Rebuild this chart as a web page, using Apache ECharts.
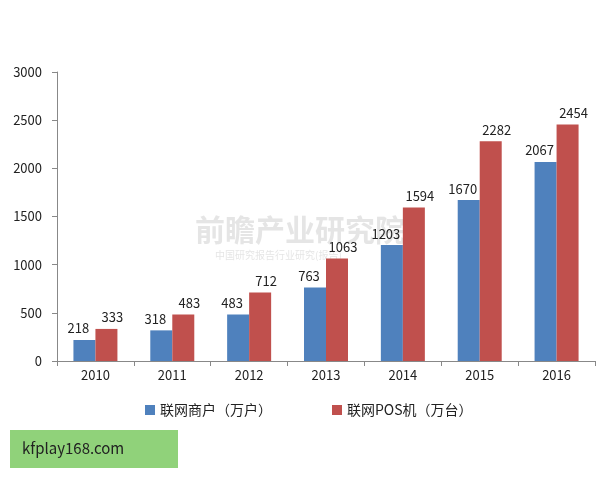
<!DOCTYPE html>
<html>
<head>
<meta charset="UTF-8">
<style>body{margin:0;background:#fff}#c{width:600px;height:480px}</style>
<script src="https://cdn.jsdelivr.net/npm/echarts@6/dist/echarts.min.js"></script>
</head>
<body>
<div id="c"></div>
<script>
var years = ['2010','2011','2012','2013','2014','2015','2016'];
var merchants = [218, 318, 483, 763, 1203, 1670, 2067];
var posMachines = [333, 483, 712, 1063, 1594, 2282, 2454];

var chart = echarts.init(document.getElementById('c'));
var font = '"Noto Sans CJK SC", sans-serif';
chart.setOption({
  animation: false,
  textStyle: {fontFamily: font},
  graphic: [
    {type: 'text', left: 'center', top: 215, style: {text: '前瞻产业研究院', fill: 'rgba(180,180,180,0.35)', font: 'bold 30px ' + font}},
    {type: 'text', left: 215, top: 250, style: {text: '中国研究报告行业研究(报告)', fill: 'rgba(180,180,180,0.35)', font: '10px ' + font}},
    {type: 'rect', left: 10, top: 430, shape: {width: 168, height: 38}, style: {fill: '#90d27a'}},
    {type: 'text', left: 22, top: 441, style: {text: 'kfplay168.com', fill: '#222', font: '15px ' + font}}
  ],
  legend: {
    bottom: 58, left: 140, itemGap: 60, itemWidth: 10, itemHeight: 10, icon: 'rect',
    textStyle: {fontSize: 14, color: '#222'},
    data: ['联网商户（万户）', '联网POS机（万台）']
  },
  grid: {left: 57, right: 5, top: 72, bottom: 119},
  xAxis: {
    type: 'category', data: years,
    axisLine: {lineStyle: {color: '#888'}},
    axisTick: {show: true, length: 5, lineStyle: {color: '#888'}},
    axisLabel: {color: '#222', fontSize: 13}
  },
  yAxis: {
    type: 'value', min: 0, max: 3000, interval: 500,
    axisLine: {show: true, lineStyle: {color: '#888'}},
    axisTick: {show: true, length: 5, lineStyle: {color: '#888'}},
    splitLine: {show: false},
    axisLabel: {color: '#222', fontSize: 13, margin: 15, formatter: function (v) { return String(v); }}
  },
  series: [
    {name: '联网商户（万户）', type: 'bar', data: merchants, barWidth: 22, barGap: '0%',
     itemStyle: {color: '#4f81bd'}, label: {show: true, position: 'top', color: '#222', fontSize: 13, offset: [-6, 0]}},
    {name: '联网POS机（万台）', type: 'bar', data: posMachines, barWidth: 22,
     itemStyle: {color: '#c0504d'}, label: {show: true, position: 'top', color: '#222', fontSize: 13, offset: [6, 0]}}
  ]
});
</script>
</body>
</html>
